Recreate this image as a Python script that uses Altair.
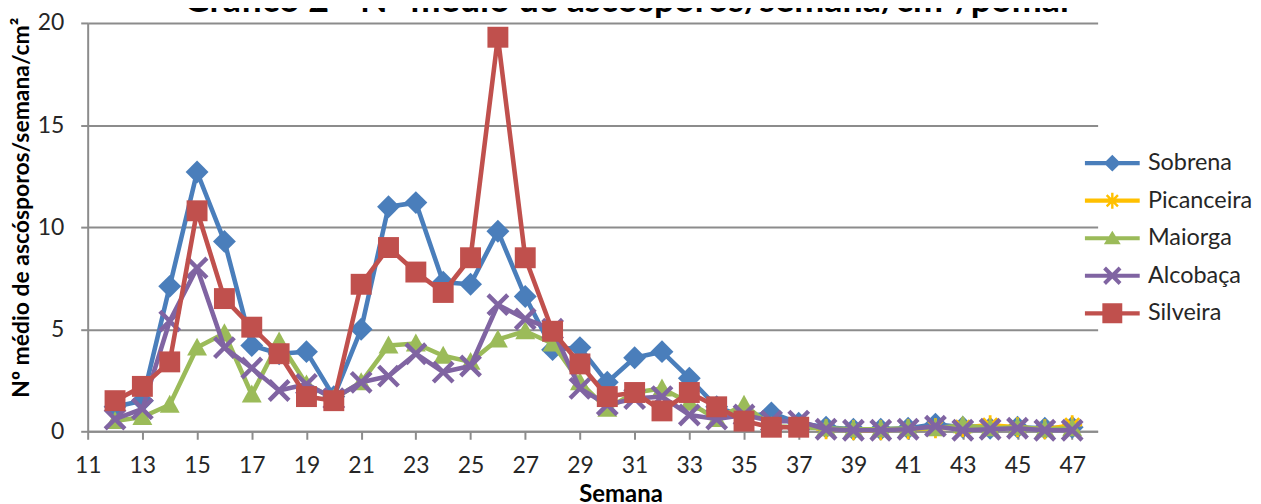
import math
import altair as alt
import pandas as pd

# ---------------- data ----------------
series_names = ["Sobrena", "Picanceira", "Maiorga", "Alcobaça", "Silveira"]
series_colors = ["#4A7EBB", "#FFC000", "#9BBB59", "#8064A2", "#C0504D"]

weeks_all = list(range(12, 48))
sobrena = [1.2, 1.5, 7.1, 12.7, 9.3, 4.2, 3.8, 3.9, 1.7, 5.0, 11.0, 11.2,
           7.3, 7.2, 9.8, 6.6, 4.0, 4.1, 2.4, 3.6, 3.9, 2.6, 1.2, 0.7,
           0.9, 0.4, 0.2, 0.1, 0.1, 0.15, 0.35, 0.2, 0.15, 0.2, 0.15, 0.2]
picanceira_weeks = list(range(38, 48))
picanceira = [0.1, 0.05, 0.05, 0.1, 0.15, 0.2, 0.3, 0.2, 0.1, 0.3]
maiorga = [0.5, 0.7, 1.3, 4.1, 4.8, 1.8, 4.4, 2.3, 1.6, 2.4, 4.2, 4.3,
           3.7, 3.4, 4.5, 4.9, 4.3, 2.4, 1.1, 1.9, 2.1, 1.4, 0.6, 1.3,
           0.25, 0.2, 0.15, 0.1, 0.1, 0.15, 0.15, 0.3, 0.15, 0.2, 0.1, 0.15]
alcobaca = [0.6, 1.1, 5.4, 8.0, 4.1, 3.1, 2.0, 2.3, 1.6, 2.4, 2.7, 3.8,
            2.9, 3.2, 6.2, 5.5, 5.0, 2.1, 1.3, 1.6, 1.7, 0.8, 0.6, 0.8,
            0.5, 0.5, 0.1, 0.05, 0.05, 0.1, 0.25, 0.05, 0.1, 0.15, 0.05, 0.05]
silveira_weeks = list(range(12, 38))
silveira = [1.5, 2.2, 3.4, 10.8, 6.5, 5.1, 3.8, 1.7, 1.5, 7.2, 9.0, 7.8,
            6.8, 8.5, 19.3, 8.5, 4.9, 3.3, 1.7, 1.9, 1.0, 1.9, 1.2, 0.5,
            0.2, 0.2]

x_ticks = list(range(11, 48, 2))
y_ticks = [0, 5, 10, 15, 20]

title_text = "Gráfico 2 - Nº médio de ascósporos/semana/cm²/pomar"
y_title = "Nº médio de ascósporos/semana/cm²"
x_title = "Semana"

FONT = "Lato"
GRAY = "#8C8C8C"


# ---------------- marker shapes (unit = sqrt(size)/2 px) ----------------
def poly(pts):
    return "M" + "L".join(f"{x:.3f},{y:.3f}" for x, y in pts) + "Z"


def bar(a, w, ang):
    c, s = math.cos(math.radians(ang)), math.sin(math.radians(ang))
    base = [(-a, -w), (a, -w), (a, w), (-a, w)]
    return poly([(x * c - y * s, x * s + y * c) for x, y in base])


def diamond(d):
    return poly([(0, -d), (d, 0), (0, d), (-d, 0)])


def square(d):
    return poly([(-d, -d), (d, -d), (d, d), (-d, d)])


def triangle(top, bot, hw):
    return poly([(0, -top), (hw, bot), (-hw, bot)])


def xmark(a, w):
    return bar(a, w, 45) + bar(a, w, 135)


def star(a, w):
    return bar(a, w, 0) + bar(a, w, 45) + bar(a, w, 90) + bar(a, w, 135)


plot_shapes = [diamond(1.15), star(1.0, 0.14), triangle(1.0, 0.8, 1.0),
               xmark(1.4, 0.22), square(1.05)]
leg_line = bar(2.75, 0.21, 0)
legend_shapes = [leg_line + diamond(0.85), leg_line + star(0.8, 0.12),
                 leg_line + triangle(0.75, 0.6, 0.85), leg_line + xmark(1.1, 0.2),
                 leg_line + square(1.0)]

# ---------------- encodings ----------------
X = alt.X("week:Q",
          scale=alt.Scale(domain=[11, 47.93], nice=False, zero=False),
          axis=alt.Axis(values=x_ticks, grid=False, domainColor=GRAY, domainWidth=2,
                        tickColor=GRAY, tickWidth=2, tickSize=8,
                        labelFont=FONT, labelFontSize=23, labelColor="#262626",
                        labelPadding=15, labelFlush=False, labelOverlap=False,
                        title=x_title, titleFont=FONT, titleFontSize=24,
                        titleFontWeight="bold", titleColor="#000000",
                        titleX=535, titleY=63, titleAlign="center",
                        titleBaseline="middle"))
Y = alt.Y("value:Q",
          scale=alt.Scale(domain=[0, 20], nice=False),
          axis=alt.Axis(values=y_ticks, grid=True, gridColor=GRAY, gridWidth=2,
                        domainColor=GRAY, domainWidth=2, tickColor=GRAY,
                        tickWidth=2, tickSize=7, labelFont=FONT, labelFontSize=23,
                        labelColor="#262626", labelPadding=17,
                        title=y_title, titleFont=FONT, titleFontSize=23,
                        titleFontWeight="bold", titleColor="#000000",
                        titleX=-66, titleY=185, titleAngle=270,
                        titleAlign="center", titleBaseline="middle"))

LEG = alt.Legend(title=None, orient="none", legendX=1017, legendY=129,
                 labelFont=FONT, labelFontSize=23.5, labelColor="#262626",
                 symbolSize=400, symbolStrokeWidth=0, labelOffset=24)

series_weeks = [weeks_all, picanceira_weeks, weeks_all, weeks_all, silveira_weeks]
series_vals = [sobrena, picanceira, maiorga, alcobaca, silveira]

layers = []
for name, col, wk, vals, shp in zip(series_names, series_colors, series_weeks,
                                    series_vals, plot_shapes):
    df = pd.DataFrame({"week": wk, "value": vals, "series": name})
    base = alt.Chart(df)
    layers.append(base.mark_line(strokeWidth=4.6, strokeJoin="round",
                                 strokeCap="round", color=col).encode(x=X, y=Y))
    layers.append(base.mark_point(shape=shp, filled=True, size=400, color=col,
                                  opacity=1, strokeWidth=0).encode(x=X, y=Y))

# legend-only layer (no rows drawn; legend built from the explicit scale domains)
legend_df = pd.DataFrame({"series": series_names})
legend_layer = alt.Chart(legend_df).transform_filter("false").mark_point(
    filled=True, size=400, opacity=1, strokeWidth=0
).encode(
    color=alt.Color("series:N", scale=alt.Scale(domain=series_names, range=series_colors),
                    legend=LEG),
    shape=alt.Shape("series:N", scale=alt.Scale(domain=series_names, range=legend_shapes),
                    legend=LEG),
)
layers.append(legend_layer)

chart = alt.layer(*layers).properties(
    width=1014, height=410,
    padding={"left": 80, "top": 14, "right": 156, "bottom": 74},
    autosize=alt.AutoSizeParams(type="none"),
    title=alt.TitleParams(title_text, font=FONT, fontSize=36, fontWeight="bold",
                          color="#000000", anchor="middle", frame="group",
                          dx=36, offset=-36, baseline="alphabetic"),
).configure_view(stroke="transparent").configure_legend(rowPadding=12.7)

chart.save("out.html", embed_options={"renderer": "svg", "actions": False})
